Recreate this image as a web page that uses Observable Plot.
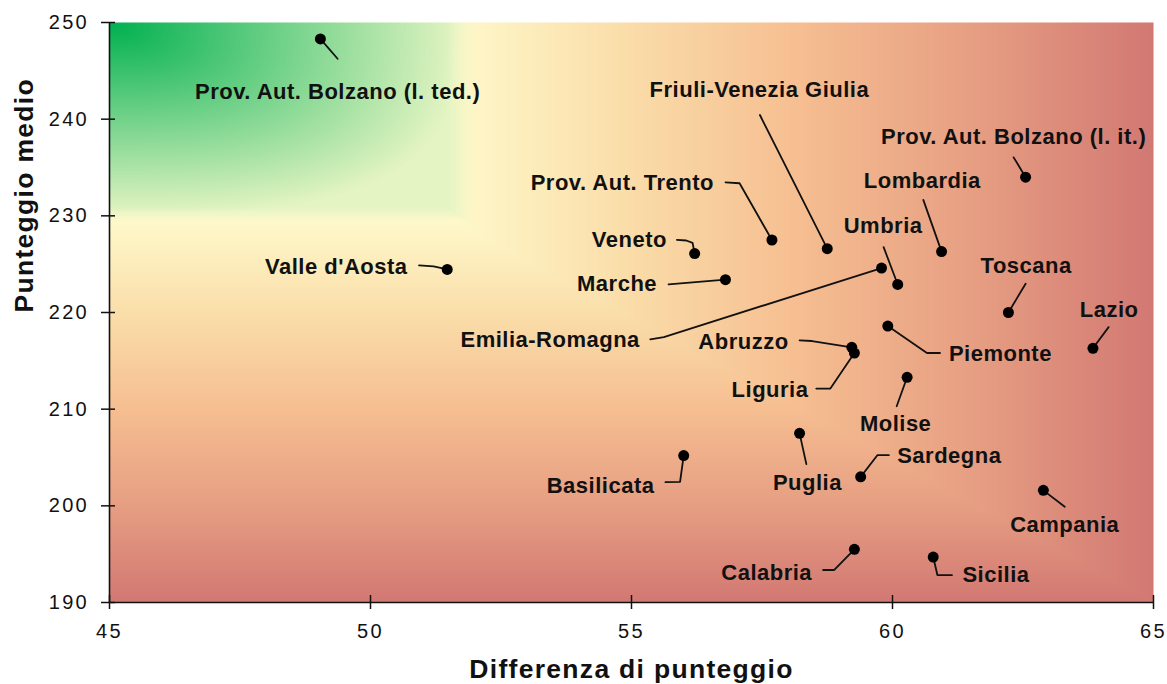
<!DOCTYPE html>
<html>
<head>
<meta charset="utf-8">
<script src="https://cdn.jsdelivr.net/npm/d3@7"></script>
<script src="https://cdn.jsdelivr.net/npm/@observablehq/plot@0.6"></script>
<style>
  html, body { margin: 0; padding: 0; background: #fff; }
  #chart svg { font-family: "Liberation Sans", Arial, sans-serif; display: block; }
  g[font-size="22"] text { letter-spacing: 0.5px; }
  g[font-size="26.5"] text { letter-spacing: 1.3px; }
  g[font-size="20"] text { letter-spacing: 2.3px; }
</style>
</head>
<body>
<div id="chart"></div>
<script>
// ---- data ----
const regions = ["Prov. Aut. Bolzano (l. ted.)", "Friuli-Venezia Giulia", "Prov. Aut. Trento", "Veneto", "Marche",
  "Valle d'Aosta", "Umbria", "Emilia-Romagna", "Lombardia", "Prov. Aut. Bolzano (l. it.)", "Toscana", "Lazio",
  "Piemonte", "Abruzzo", "Liguria", "Molise", "Puglia", "Basilicata", "Sardegna", "Campania", "Calabria", "Sicilia"];
const differenzaPunteggio = [49.04, 58.75, 57.69, 56.21, 56.80, 51.47, 60.10, 59.79, 60.94, 62.55, 62.22, 63.84,
  59.91, 59.22, 59.27, 60.28, 58.22, 56.00, 59.39, 62.89, 59.27, 60.78];
const punteggioMedio = [248.3, 226.6, 227.5, 226.1, 223.4, 224.45, 222.9, 224.6, 226.3, 234.0, 220.0, 216.3,
  218.6, 216.4, 215.8, 213.3, 207.5, 205.2, 203.0, 201.6, 195.5, 194.7];

// label anchors (data units) and leader-line vertices (data units)
const labelX = [49.37, 57.45, 56.58, 55.68, 55.49, 50.71, 59.82, 55.16, 60.57, 62.32, 62.56, 64.15,
  61.08, 58.01, 58.39, 60.06, 58.37, 55.44, 60.09, 63.30, 58.46, 61.34];
const labelY = [242.82, 243.0, 233.42, 227.5, 222.98, 224.74, 228.97, 217.2, 233.56, 238.21, 224.78, 220.30,
  215.74, 216.99, 212.03, 208.42, 202.40, 202.01, 205.11, 198.04, 193.10, 192.87];
const labelSide = ["middle", "middle", "end", "end", "end", "end", "middle", "end", "middle", "middle", "middle", "middle",
  "start", "end", "end", "middle", "middle", "end", "start", "middle", "end", "start"];
const leaders = [
  [[49.37, 246.25]],
  [[57.46, 240.43]],
  [[57.07, 233.37], [56.80, 233.47]],
  [[56.17, 227.2], [56.05, 227.45], [55.87, 227.52]],
  [[55.71, 222.9]],
  [[51.21, 224.77], [50.93, 224.87]],
  [[59.83, 226.76]],
  [[55.62, 217.46], [55.36, 217.22]],
  [[60.59, 231.65]],
  [[62.32, 236.05]],
  [[62.55, 222.98]],
  [[64.14, 218.49]],
  [[60.66, 215.81], [60.91, 215.81]],
  [[58.46, 217.05], [58.22, 217.12]],
  [[58.81, 212.13], [58.54, 212.13]],
  [[60.08, 210.30]],
  [[58.35, 204.31]],
  [[55.93, 202.48], [55.65, 202.45]],
  [[59.71, 205.24], [59.93, 205.24]],
  [[63.30, 199.90]],
  [[58.88, 193.36], [58.67, 193.36]],
  [[60.86, 192.84], [61.14, 192.84]]
];
const xTicks = [45, 50, 55, 60, 65];
const yTicks = [190, 200, 210, 220, 230, 240, 250];
const xDomain = [45, 65];
const yDomain = [190, 250];

// ---- tables built from the arrays ----
const points = regions.map((r, i) => ({region: r, x: differenzaPunteggio[i], y: punteggioMedio[i],
  lx: labelX[i], ly: labelY[i], side: labelSide[i]}));
const leaderRows = points.flatMap((p, i) => [{region: p.region, x: p.x, y: p.y},
  ...leaders[i].map(([x, y]) => ({region: p.region, x, y}))]);

// ---- background gradient ----
const stops = [[255, 250, 205], [250, 222, 170], [246, 190, 145], [230, 158, 130], [210, 120, 115]];
function warm(t) {
  t = Math.max(0, Math.min(1, t)) * (stops.length - 1);
  const i = Math.min(stops.length - 2, Math.floor(t)), f = t - i;
  return stops[i].map((c, k) => c + (stops[i + 1][k] - c) * f);
}
const W = 1044, H = 580;
const Wg = 350, Hg = 192;             // green corner box, pixels
const dark = [0, 176, 80], pale = [228, 244, 195];
const clamp01 = v => Math.max(0, Math.min(1, v));
function bg(x, y) {
  const tx = (x - 51.4) / 13.6, ty = (230 - y) / 40;
  let c = warm(Math.max(tx, ty));
  const dx = (x - 45) / 20 * W, dy = (250 - y) / 60 * H;
  const u = dx / Wg, v = dy / Hg;
  const s = Math.pow(u ** 3 + v ** 3, 1 / 3);
  const a = clamp01((1 - Math.max(u, v)) * Math.min(Wg, Hg) / 14 + 0.5);
  if (a > 0) {
    const sc = clamp01(s);
    const gc = dark.map((w, k) => w + (pale[k] - w) * sc);
    c = c.map((w, k) => w * (1 - a) + gc[k] * a);
  }
  return `rgb(${Math.round(c[0])},${Math.round(c[1])},${Math.round(c[2])})`;
}

const font = "Liberation Sans, Arial, sans-serif";
const labelMark = side => Plot.text(points.filter(d => d.side === side), {
  x: "lx", y: "ly", text: "region", textAnchor: side, lineAnchor: "middle",
  fontSize: 22, fontWeight: "bold", fill: "#111"
});

const chart = Plot.plot({
  width: 1167,
  height: 684,
  marginLeft: 109,
  marginRight: 14,
  marginTop: 22,
  marginBottom: 82,
  style: {fontFamily: font, color: "#111", background: "#fff"},
  x: {domain: xDomain},
  y: {domain: yDomain},
  color: {type: "identity"},
  marks: [
    Plot.raster({x1: 45, x2: 65, y1: 190, y2: 250, fill: bg, pixelSize: 1}),
    Plot.axisX({ticks: xTicks, tickSize: 14, dy: -7, tickPadding: 14, fontSize: 20, label: null, tickFormat: d => String(d), strokeWidth: 1.5}),
    Plot.axisY({ticks: yTicks, tickSize: 14, dx: 6, tickPadding: 12.5, fontSize: 20, label: null, tickFormat: d => String(d), strokeWidth: 1.5}),
    Plot.ruleX([45], {stroke: "#111", strokeWidth: 1.6}),
    Plot.ruleY([190], {stroke: "#111", strokeWidth: 1.6}),
    Plot.line(leaderRows, {x: "x", y: "y", z: "region", stroke: "#111", strokeWidth: 1.8}),
    Plot.dot(points, {x: "x", y: "y", r: 5.5, fill: "#000", stroke: "none"}),
    labelMark("middle"),
    labelMark("end"),
    labelMark("start"),
    Plot.text(["Differenza di punteggio"], {frameAnchor: "bottom", dy: 67, lineAnchor: "middle", fontSize: 26.5, fontWeight: "bold", fill: "#111"}),
    Plot.text(["Punteggio medio"], {frameAnchor: "left", dx: -85, rotate: -90, lineAnchor: "middle", fontSize: 26.5, fontWeight: "bold", fill: "#111"})
  ]
});
document.getElementById("chart").appendChild(chart);
</script>
</body>
</html>
